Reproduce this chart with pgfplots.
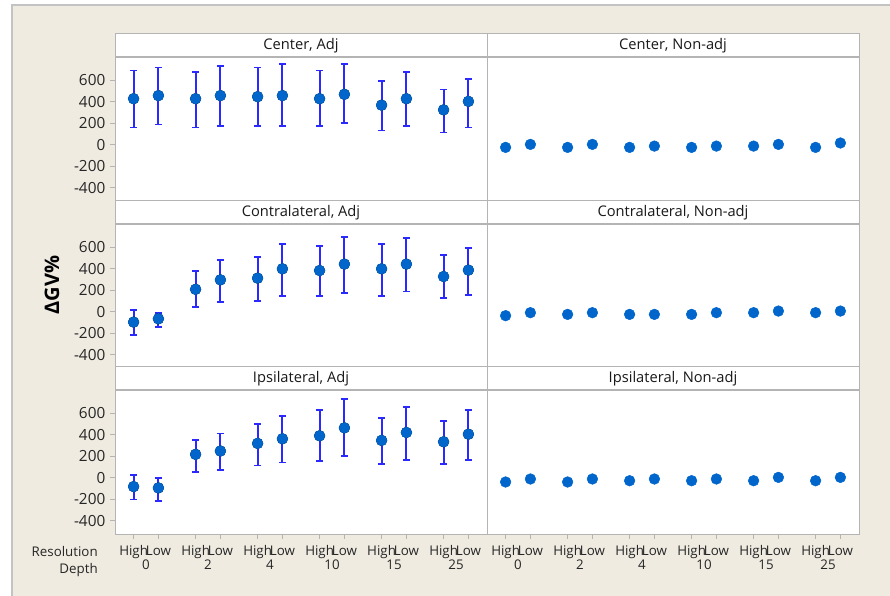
\documentclass[border=0pt]{standalone}
\usepackage{fontspec}
\setmainfont{Open Sans}
\usepackage{pgfplots}
\usepackage{pgfplotstable}
\pgfplotsset{compat=1.18}

\definecolor{bgbeige}{HTML}{EFEBE1}
\definecolor{framegray}{HTML}{B4B4B4}
\definecolor{dotblue}{HTML}{0066CC}
\definecolor{barblue}{HTML}{2A2AFF}

% x: High/Low pairs at depth 0,2,4,10,15,25; y = mean, lo/hi = interval ends
\pgfplotstableread{
x    y    lo   hi
0    429  161  692
1    458  189  720
2.5  429  161  679
3.5  458  174  733
5    448  174  720
6    458  174  752
7.5  429  174  692
8.5  470  202  752
10   369  133  591
11   429  174  679
12.5 325  114  515
13.5 404  161  616
}\centeradj
\pgfplotstableread{
x    y    lo    hi
0    -97  -219  16
1    -66  -144  -16
2.5  209  44    381
3.5  297  88    481
5    313  103   509
6    400  144   628
7.5  384  144   609
8.5  444  175   700
10   400  144   628
11   444  188   684
12.5 328  131   525
13.5 388  159   597
}\contraadj
\pgfplotstableread{
x    y    lo    hi
0    -83  -203  28
1    -95  -215  -3
2.5  218  55    354
3.5  249  68    412
5    320  114   498
6    363  142   572
7.5  391  157   631
8.5  465  200   732
10   348  129   560
11   422  169   658
12.5 335  129   529
13.5 406  169   631
}\ipsiadj
\pgfplotstableread{
x    c    k    i
0    -25  -37  -40
1    3    -9   -12
2.5  -25  -25  -40
3.5  3    -9   -12
5    -25  -25  -28
6    -13  -25  -12
7.5  -25  -25  -28
8.5  -13  -9   -12
10   -13  -9   -28
11   3    6    3
12.5 -25  -9   -28
13.5 16   6    3
}\nonadj

\pgfplotsset{
  panel/.style={
    width=279pt, height=108pt, scale only axis,
    xmin=-0.75, xmax=14.25, ymin=-525, ymax=818,
    axis background/.style={fill=white},
    axis line style={framegray},
    tick style={framegray, line width=0.6pt},
    tick align=outside, major tick length=3.75pt,
    tick pos=left,
    ytick={-400,-200,0,200,400,600},
    xtick=\empty,
    /pgf/number format/assume math mode=true,
    yticklabel style={font=\fontsize{11.5}{13}\selectfont, text=black!85},
    every axis title shift=0pt,
    title style={at={(0.5,1)}, anchor=south, yshift=0pt, draw=framegray,
      fill=white, minimum width=279pt, minimum height=17.25pt, inner sep=0pt,
      font=\fontsize{11}{13}\selectfont, text=black!90},
    anchor=north west,
  },
  rightpanel/.style={panel, ytick=\empty},
  bottompanel/.style={
    xtick={0,1,2.5,3.5,5,6,7.5,8.5,10,11,12.5,13.5},
    xticklabels={High,Low,High,Low,High,Low,High,Low,High,Low,High,Low},
    extra x ticks={0.5,3,5.5,8,10.5,13},
    extra x tick labels={0,2,4,10,15,25},
    extra x tick style={major tick length=0pt, tick label style={yshift=-14.5pt}},
    xticklabel style={font=\fontsize{10}{11}\selectfont, text=black!85, yshift=-1.5pt},
  },
  means/.style={only marks, mark=*, mark size=4pt,
    mark options={fill=dotblue, draw=dotblue}},
  % interval plot: invisible marks, visible error bars
  errs/.style={only marks, mark=*, mark size=4pt,
    mark options={draw=none, fill=none},
    every error bar/.append style={barblue, line width=1.6pt},
    error bars/.cd, y dir=both, y explicit,
    error mark options={rotate=90, mark size=2.6pt, line width=1.4pt, draw=barblue}},
}

\begin{document}
\begin{tikzpicture}
\path[use as bounding box] (0,0) rectangle (667.5pt,-447pt);
\fill[white] (0,0) rectangle (667.5pt,-447pt);
\fill[bgbeige] (9pt,-3.75pt) rectangle (667.5pt,-447pt);
\draw[framegray!80, line width=0.8pt] (9pt,-447pt) -- (9pt,-3.75pt) -- (667.5pt,-3.75pt);

% left column
\begin{axis}[panel, at={(86.25pt,-42.75pt)}, title={Center, Adj}]
  \addplot[errs] table[x=x, y=y, y error plus expr=\thisrow{hi}-\thisrow{y},
    y error minus expr=\thisrow{y}-\thisrow{lo}] {\centeradj};
  \addplot[means] table[x=x, y=y] {\centeradj};
\end{axis}
\begin{axis}[panel, at={(86.25pt,-168pt)}, title={Contralateral, Adj}]
  \addplot[errs] table[x=x, y=y, y error plus expr=\thisrow{hi}-\thisrow{y},
    y error minus expr=\thisrow{y}-\thisrow{lo}] {\contraadj};
  \addplot[means] table[x=x, y=y] {\contraadj};
\end{axis}
\begin{axis}[panel, bottompanel, at={(86.25pt,-292.5pt)}, title={Ipsilateral, Adj}]
  \addplot[errs] table[x=x, y=y, y error plus expr=\thisrow{hi}-\thisrow{y},
    y error minus expr=\thisrow{y}-\thisrow{lo}] {\ipsiadj};
  \addplot[means] table[x=x, y=y] {\ipsiadj};
\end{axis}

% right column
\begin{axis}[rightpanel, at={(365.25pt,-42.75pt)}, title={Center, Non-adj}]
  \addplot[means] table[x=x, y=c] {\nonadj};
\end{axis}
\begin{axis}[rightpanel, at={(365.25pt,-168pt)}, title={Contralateral, Non-adj}]
  \addplot[means] table[x=x, y=k] {\nonadj};
\end{axis}
\begin{axis}[rightpanel, bottompanel, at={(365.25pt,-292.5pt)}, title={Ipsilateral, Non-adj}]
  \addplot[means] table[x=x, y=i] {\nonadj};
\end{axis}

\node[rotate=90, font=\bfseries\fontsize{15}{17}\selectfont] at (39pt,-213.75pt) {ΔGV\%};
\node[anchor=east, inner sep=0pt, font=\fontsize{10}{11}\selectfont, text=black!85] at (73.5pt,-413.25pt) {Resolution};
\node[anchor=east, inner sep=0pt, font=\fontsize{10}{11}\selectfont, text=black!85] at (73.5pt,-427.5pt) {Depth};
\end{tikzpicture}
\end{document}
